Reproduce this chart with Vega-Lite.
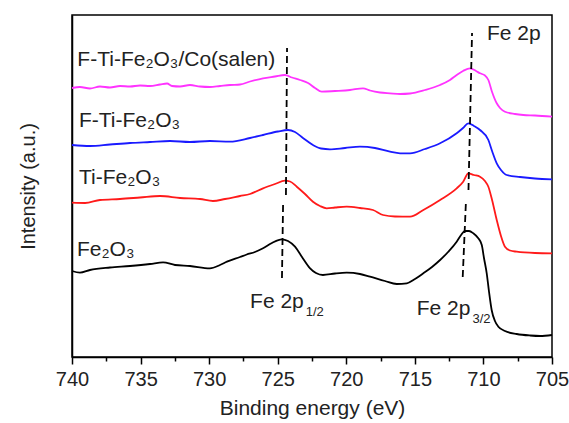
{
  "$schema": "https://vega.github.io/schema/vega-lite/v6.json",
  "width": 480,
  "height": 342,
  "autosize": {"type": "none"},
  "padding": {"left": 72, "top": 15, "right": 17, "bottom": 66},
  "background": "white",
  "config": {
    "font": "Arial, Liberation Sans, sans-serif",
    "view": {"stroke": "black", "strokeWidth": 1.5},
    "axis": {"grid": false, "labelColor": "#222", "titleColor": "#222", "titleFontWeight": "normal"}
  },
  "datasets": {
    "curves": [
      {"s": "Fe2O3", "e": 740.00, "i": 86}, {"s": "Fe2O3", "e": 739.42, "i": 84.3}, {"s": "Fe2O3", "e": 738.69, "i": 87}, {"s": "Fe2O3", "e": 737.23, "i": 89.5}, {"s": "Fe2O3", "e": 735.77, "i": 91}, {"s": "Fe2O3", "e": 734.31, "i": 93}, {"s": "Fe2O3", "e": 733.36, "i": 94.7}, {"s": "Fe2O3", "e": 732.49, "i": 92}, {"s": "Fe2O3", "e": 731.40, "i": 91}, {"s": "Fe2O3", "e": 729.94, "i": 88.7}, {"s": "Fe2O3", "e": 729.21, "i": 92}, {"s": "Fe2O3", "e": 728.70, "i": 95.3}, {"s": "Fe2O3", "e": 727.75, "i": 100}, {"s": "Fe2O3", "e": 727.26, "i": 102.5}, {"s": "Fe2O3", "e": 726.66, "i": 105}, {"s": "Fe2O3", "e": 726.07, "i": 108.7}, {"s": "Fe2O3", "e": 725.42, "i": 114}, {"s": "Fe2O3", "e": 724.71, "i": 117.7}, {"s": "Fe2O3", "e": 724.25, "i": 116}, {"s": "Fe2O3", "e": 723.74, "i": 110.3}, {"s": "Fe2O3", "e": 723.23, "i": 100}, {"s": "Fe2O3", "e": 722.64, "i": 88.7}, {"s": "Fe2O3", "e": 722.21, "i": 84}, {"s": "Fe2O3", "e": 721.70, "i": 82}, {"s": "Fe2O3", "e": 720.82, "i": 83.5}, {"s": "Fe2O3", "e": 719.97, "i": 84.3}, {"s": "Fe2O3", "e": 719.00, "i": 83}, {"s": "Fe2O3", "e": 718.27, "i": 80.3}, {"s": "Fe2O3", "e": 717.18, "i": 76}, {"s": "Fe2O3", "e": 716.32, "i": 73}, {"s": "Fe2O3", "e": 715.59, "i": 73.7}, {"s": "Fe2O3", "e": 714.99, "i": 78}, {"s": "Fe2O3", "e": 714.38, "i": 83.7}, {"s": "Fe2O3", "e": 713.75, "i": 90}, {"s": "Fe2O3", "e": 713.16, "i": 97}, {"s": "Fe2O3", "e": 712.58, "i": 105}, {"s": "Fe2O3", "e": 711.95, "i": 115.3}, {"s": "Fe2O3", "e": 711.63, "i": 122}, {"s": "Fe2O3", "e": 711.34, "i": 126}, {"s": "Fe2O3", "e": 711.05, "i": 126}, {"s": "Fe2O3", "e": 710.74, "i": 123.7}, {"s": "Fe2O3", "e": 710.39, "i": 119}, {"s": "Fe2O3", "e": 710.12, "i": 112}, {"s": "Fe2O3", "e": 709.96, "i": 99}, {"s": "Fe2O3", "e": 709.76, "i": 83.7}, {"s": "Fe2O3", "e": 709.59, "i": 65}, {"s": "Fe2O3", "e": 709.40, "i": 47}, {"s": "Fe2O3", "e": 709.16, "i": 36}, {"s": "Fe2O3", "e": 708.91, "i": 30.3}, {"s": "Fe2O3", "e": 708.43, "i": 26}, {"s": "Fe2O3", "e": 707.57, "i": 23}, {"s": "Fe2O3", "e": 706.60, "i": 21.5}, {"s": "Fe2O3", "e": 705.87, "i": 21}, {"s": "Fe2O3", "e": 705.00, "i": 22},
      {"s": "Ti-Fe2O3", "e": 740.00, "i": 154.3}, {"s": "Ti-Fe2O3", "e": 739.05, "i": 154}, {"s": "Ti-Fe2O3", "e": 737.96, "i": 157}, {"s": "Ti-Fe2O3", "e": 736.50, "i": 158}, {"s": "Ti-Fe2O3", "e": 735.04, "i": 159.5}, {"s": "Ti-Fe2O3", "e": 733.58, "i": 161}, {"s": "Ti-Fe2O3", "e": 732.12, "i": 159}, {"s": "Ti-Fe2O3", "e": 730.67, "i": 158}, {"s": "Ti-Fe2O3", "e": 729.72, "i": 156}, {"s": "Ti-Fe2O3", "e": 728.84, "i": 158}, {"s": "Ti-Fe2O3", "e": 727.75, "i": 161}, {"s": "Ti-Fe2O3", "e": 727.02, "i": 163}, {"s": "Ti-Fe2O3", "e": 726.07, "i": 168.7}, {"s": "Ti-Fe2O3", "e": 725.20, "i": 173}, {"s": "Ti-Fe2O3", "e": 724.47, "i": 176.3}, {"s": "Ti-Fe2O3", "e": 724.10, "i": 175.5}, {"s": "Ti-Fe2O3", "e": 723.61, "i": 170.3}, {"s": "Ti-Fe2O3", "e": 723.01, "i": 163}, {"s": "Ti-Fe2O3", "e": 722.43, "i": 155.3}, {"s": "Ti-Fe2O3", "e": 721.92, "i": 151}, {"s": "Ti-Fe2O3", "e": 721.43, "i": 148.7}, {"s": "Ti-Fe2O3", "e": 720.82, "i": 149.5}, {"s": "Ti-Fe2O3", "e": 719.97, "i": 150.3}, {"s": "Ti-Fe2O3", "e": 719.00, "i": 149}, {"s": "Ti-Fe2O3", "e": 718.05, "i": 147}, {"s": "Ti-Fe2O3", "e": 717.32, "i": 142}, {"s": "Ti-Fe2O3", "e": 716.45, "i": 140.5}, {"s": "Ti-Fe2O3", "e": 715.35, "i": 140.3}, {"s": "Ti-Fe2O3", "e": 714.38, "i": 147}, {"s": "Ti-Fe2O3", "e": 713.16, "i": 157}, {"s": "Ti-Fe2O3", "e": 711.95, "i": 168.7}, {"s": "Ti-Fe2O3", "e": 711.49, "i": 175}, {"s": "Ti-Fe2O3", "e": 711.10, "i": 183.7}, {"s": "Ti-Fe2O3", "e": 710.69, "i": 182}, {"s": "Ti-Fe2O3", "e": 710.25, "i": 180.3}, {"s": "Ti-Fe2O3", "e": 709.89, "i": 176}, {"s": "Ti-Fe2O3", "e": 709.64, "i": 170.3}, {"s": "Ti-Fe2O3", "e": 709.37, "i": 157}, {"s": "Ti-Fe2O3", "e": 709.03, "i": 137}, {"s": "Ti-Fe2O3", "e": 708.72, "i": 121}, {"s": "Ti-Fe2O3", "e": 708.43, "i": 110.3}, {"s": "Ti-Fe2O3", "e": 708.06, "i": 106.5}, {"s": "Ti-Fe2O3", "e": 707.57, "i": 105.3}, {"s": "Ti-Fe2O3", "e": 706.24, "i": 104}, {"s": "Ti-Fe2O3", "e": 705.00, "i": 103.7},
      {"s": "F-Ti-Fe2O3", "e": 740.00, "i": 212}, {"s": "F-Ti-Fe2O3", "e": 738.69, "i": 211}, {"s": "F-Ti-Fe2O3", "e": 737.23, "i": 212.5}, {"s": "F-Ti-Fe2O3", "e": 735.77, "i": 214}, {"s": "F-Ti-Fe2O3", "e": 734.31, "i": 215}, {"s": "F-Ti-Fe2O3", "e": 732.85, "i": 216}, {"s": "F-Ti-Fe2O3", "e": 731.40, "i": 215}, {"s": "F-Ti-Fe2O3", "e": 729.94, "i": 216}, {"s": "F-Ti-Fe2O3", "e": 728.48, "i": 215.3}, {"s": "F-Ti-Fe2O3", "e": 727.02, "i": 219}, {"s": "F-Ti-Fe2O3", "e": 726.07, "i": 222}, {"s": "F-Ti-Fe2O3", "e": 724.98, "i": 225.5}, {"s": "F-Ti-Fe2O3", "e": 724.25, "i": 227}, {"s": "F-Ti-Fe2O3", "e": 723.74, "i": 225}, {"s": "F-Ti-Fe2O3", "e": 723.16, "i": 219}, {"s": "F-Ti-Fe2O3", "e": 722.43, "i": 212}, {"s": "F-Ti-Fe2O3", "e": 721.84, "i": 208.5}, {"s": "F-Ti-Fe2O3", "e": 721.19, "i": 207.7}, {"s": "F-Ti-Fe2O3", "e": 720.09, "i": 209}, {"s": "F-Ti-Fe2O3", "e": 719.00, "i": 210.3}, {"s": "F-Ti-Fe2O3", "e": 717.91, "i": 209}, {"s": "F-Ti-Fe2O3", "e": 716.81, "i": 205.3}, {"s": "F-Ti-Fe2O3", "e": 716.08, "i": 203.7}, {"s": "F-Ti-Fe2O3", "e": 715.35, "i": 203.7}, {"s": "F-Ti-Fe2O3", "e": 714.26, "i": 208}, {"s": "F-Ti-Fe2O3", "e": 713.16, "i": 213.7}, {"s": "F-Ti-Fe2O3", "e": 711.95, "i": 223.7}, {"s": "F-Ti-Fe2O3", "e": 711.49, "i": 229}, {"s": "F-Ti-Fe2O3", "e": 711.10, "i": 233.7}, {"s": "F-Ti-Fe2O3", "e": 710.69, "i": 231}, {"s": "F-Ti-Fe2O3", "e": 710.25, "i": 227}, {"s": "F-Ti-Fe2O3", "e": 709.64, "i": 217}, {"s": "F-Ti-Fe2O3", "e": 709.37, "i": 206}, {"s": "F-Ti-Fe2O3", "e": 709.03, "i": 193.7}, {"s": "F-Ti-Fe2O3", "e": 708.72, "i": 187}, {"s": "F-Ti-Fe2O3", "e": 708.30, "i": 182}, {"s": "F-Ti-Fe2O3", "e": 707.33, "i": 180}, {"s": "F-Ti-Fe2O3", "e": 706.24, "i": 178.5}, {"s": "F-Ti-Fe2O3", "e": 705.00, "i": 177.7},
      {"s": "F-Ti-Fe2O3/Co(salen)", "e": 740.00, "i": 269}, {"s": "F-Ti-Fe2O3/Co(salen)", "e": 739.42, "i": 270}, {"s": "F-Ti-Fe2O3/Co(salen)", "e": 738.69, "i": 268.5}, {"s": "F-Ti-Fe2O3/Co(salen)", "e": 737.96, "i": 270.5}, {"s": "F-Ti-Fe2O3/Co(salen)", "e": 737.23, "i": 269.5}, {"s": "F-Ti-Fe2O3/Co(salen)", "e": 736.50, "i": 271}, {"s": "F-Ti-Fe2O3/Co(salen)", "e": 735.77, "i": 270.5}, {"s": "F-Ti-Fe2O3/Co(salen)", "e": 735.04, "i": 271.5}, {"s": "F-Ti-Fe2O3/Co(salen)", "e": 734.31, "i": 271}, {"s": "F-Ti-Fe2O3/Co(salen)", "e": 733.58, "i": 272.5}, {"s": "F-Ti-Fe2O3/Co(salen)", "e": 733.07, "i": 273.5}, {"s": "F-Ti-Fe2O3/Co(salen)", "e": 732.71, "i": 271}, {"s": "F-Ti-Fe2O3/Co(salen)", "e": 732.12, "i": 270.5}, {"s": "F-Ti-Fe2O3/Co(salen)", "e": 731.40, "i": 272}, {"s": "F-Ti-Fe2O3/Co(salen)", "e": 730.67, "i": 270.5}, {"s": "F-Ti-Fe2O3/Co(salen)", "e": 729.94, "i": 270}, {"s": "F-Ti-Fe2O3/Co(salen)", "e": 729.21, "i": 271}, {"s": "F-Ti-Fe2O3/Co(salen)", "e": 728.48, "i": 272}, {"s": "F-Ti-Fe2O3/Co(salen)", "e": 727.75, "i": 272.5}, {"s": "F-Ti-Fe2O3/Co(salen)", "e": 727.02, "i": 275.5}, {"s": "F-Ti-Fe2O3/Co(salen)", "e": 726.07, "i": 278.7}, {"s": "F-Ti-Fe2O3/Co(salen)", "e": 725.20, "i": 280.5}, {"s": "F-Ti-Fe2O3/Co(salen)", "e": 724.47, "i": 282}, {"s": "F-Ti-Fe2O3/Co(salen)", "e": 723.96, "i": 279.5}, {"s": "F-Ti-Fe2O3/Co(salen)", "e": 723.37, "i": 277}, {"s": "F-Ti-Fe2O3/Co(salen)", "e": 722.79, "i": 274}, {"s": "F-Ti-Fe2O3/Co(salen)", "e": 722.28, "i": 269}, {"s": "F-Ti-Fe2O3/Co(salen)", "e": 721.79, "i": 265.3}, {"s": "F-Ti-Fe2O3/Co(salen)", "e": 720.82, "i": 266}, {"s": "F-Ti-Fe2O3/Co(salen)", "e": 719.73, "i": 267}, {"s": "F-Ti-Fe2O3/Co(salen)", "e": 718.78, "i": 268.7}, {"s": "F-Ti-Fe2O3/Co(salen)", "e": 718.27, "i": 266.5}, {"s": "F-Ti-Fe2O3/Co(salen)", "e": 717.54, "i": 264.5}, {"s": "F-Ti-Fe2O3/Co(salen)", "e": 716.81, "i": 263.7}, {"s": "F-Ti-Fe2O3/Co(salen)", "e": 716.08, "i": 263}, {"s": "F-Ti-Fe2O3/Co(salen)", "e": 715.35, "i": 263.5}, {"s": "F-Ti-Fe2O3/Co(salen)", "e": 714.26, "i": 267}, {"s": "F-Ti-Fe2O3/Co(salen)", "e": 713.16, "i": 272}, {"s": "F-Ti-Fe2O3/Co(salen)", "e": 712.44, "i": 277}, {"s": "F-Ti-Fe2O3/Co(salen)", "e": 711.95, "i": 282}, {"s": "F-Ti-Fe2O3/Co(salen)", "e": 711.49, "i": 286}, {"s": "F-Ti-Fe2O3/Co(salen)", "e": 710.98, "i": 288.7}, {"s": "F-Ti-Fe2O3/Co(salen)", "e": 710.54, "i": 286}, {"s": "F-Ti-Fe2O3/Co(salen)", "e": 710.25, "i": 283.7}, {"s": "F-Ti-Fe2O3/Co(salen)", "e": 709.89, "i": 281.5}, {"s": "F-Ti-Fe2O3/Co(salen)", "e": 709.64, "i": 277}, {"s": "F-Ti-Fe2O3/Co(salen)", "e": 709.37, "i": 265}, {"s": "F-Ti-Fe2O3/Co(salen)", "e": 709.03, "i": 253.7}, {"s": "F-Ti-Fe2O3/Co(salen)", "e": 708.79, "i": 249}, {"s": "F-Ti-Fe2O3/Co(salen)", "e": 708.43, "i": 245.3}, {"s": "F-Ti-Fe2O3/Co(salen)", "e": 707.70, "i": 243}, {"s": "F-Ti-Fe2O3/Co(salen)", "e": 707.09, "i": 242}, {"s": "F-Ti-Fe2O3/Co(salen)", "e": 706.24, "i": 241.5}, {"s": "F-Ti-Fe2O3/Co(salen)", "e": 705.00, "i": 240.3}
    ],
    "dashes": [
      {"seg": "a", "e": 724.32, "i": 309}, {"seg": "a", "e": 724.40, "i": 162},
      {"seg": "b", "e": 724.61, "i": 152}, {"seg": "b", "e": 724.69, "i": 79},
      {"seg": "c", "e": 710.83, "i": 324}, {"seg": "c", "e": 711.09, "i": 167},
      {"seg": "d", "e": 711.27, "i": 157}, {"seg": "d", "e": 711.51, "i": 80}
    ],
    "labels": [
      {"t": "F-Ti-Fe₂O₃/Co(salen)", "e": 739.61, "i": 291},
      {"t": "F-Ti-Fe₂O₃", "e": 739.49, "i": 230},
      {"t": "Ti-Fe₂O₃", "e": 739.49, "i": 173},
      {"t": "Fe₂O₃", "e": 739.64, "i": 101},
      {"t": "Fe 2p", "e": 709.74, "i": 317}
    ],
    "peaks": [
      {"t": "Fe 2p", "sub": "1/2", "e": 723.1, "i": 49},
      {"t": "Fe 2p", "sub": "3/2", "e": 710.95, "i": 42}
    ]
  },
  "layer": [
    {
      "data": {"name": "curves"},
      "mark": {"type": "line", "strokeWidth": 1.8, "interpolate": "monotone"},
      "encoding": {
        "x": {"field": "e", "type": "quantitative", "scale": {"domain": [740, 705], "nice": false, "zero": false},
          "axis": {"values": [740, 735, 730, 725, 720, 715, 710, 705], "title": "Binding energy (eV)", "format": "d",
            "labelFontSize": 20, "titleFontSize": 21, "tickSize": 7, "tickWidth": 1.5, "tickColor": "black",
            "domainColor": "black", "domainWidth": 1.5, "labelPadding": 5, "titlePadding": 8, "labelFlush": false}},
        "y": {"field": "i", "type": "quantitative", "scale": {"domain": [0, 342], "nice": false, "zero": false},
          "axis": {"title": "Intensity (a.u.)", "labels": false, "ticks": false, "domainColor": "black", "domainWidth": 1.5,
            "titleFontSize": 20, "titlePadding": 34}},
        "color": {"field": "s", "type": "nominal", "legend": null,
          "scale": {"domain": ["Fe2O3", "Ti-Fe2O3", "F-Ti-Fe2O3", "F-Ti-Fe2O3/Co(salen)"], "range": ["#000000", "#ff1a1a", "#1a1aff", "#ff33ff"]}},
        "detail": {"field": "s"}
      }
    },
    {
      "data": {"name": "dashes"},
      "mark": {"type": "line", "color": "black", "strokeWidth": 1.8, "strokeDash": [7, 4]},
      "encoding": {
        "x": {"field": "e", "type": "quantitative",
          "axis": {"values": [737.5, 732.5, 727.5, 722.5, 717.5, 712.5, 707.5], "orient": "bottom", "labels": false, "title": null,
            "domain": false, "tickSize": 4, "tickWidth": 1.5, "tickColor": "black"}},
        "y": {"field": "i", "type": "quantitative", "axis": null},
        "detail": {"field": "seg"}
      }
    },
    {
      "data": {"name": "labels"},
      "mark": {"type": "text", "align": "left", "baseline": "alphabetic", "fontSize": 21, "color": "#222"},
      "encoding": {
        "x": {"field": "e", "type": "quantitative", "axis": null},
        "y": {"field": "i", "type": "quantitative", "axis": null},
        "text": {"field": "t"}
      }
    },
    {
      "data": {"name": "peaks"},
      "mark": {"type": "text", "align": "right", "baseline": "alphabetic", "fontSize": 21, "color": "#222"},
      "encoding": {
        "x": {"field": "e", "type": "quantitative", "axis": null},
        "y": {"field": "i", "type": "quantitative", "axis": null},
        "text": {"field": "t"}
      }
    },
    {
      "data": {"name": "peaks"},
      "mark": {"type": "text", "align": "left", "baseline": "alphabetic", "fontSize": 13, "dx": 2, "dy": 8, "color": "#222"},
      "encoding": {
        "x": {"field": "e", "type": "quantitative", "axis": null},
        "y": {"field": "i", "type": "quantitative", "axis": null},
        "text": {"field": "sub"}
      }
    }
  ],
  "resolve": {"axis": {"x": "independent", "y": "independent"}}
}
